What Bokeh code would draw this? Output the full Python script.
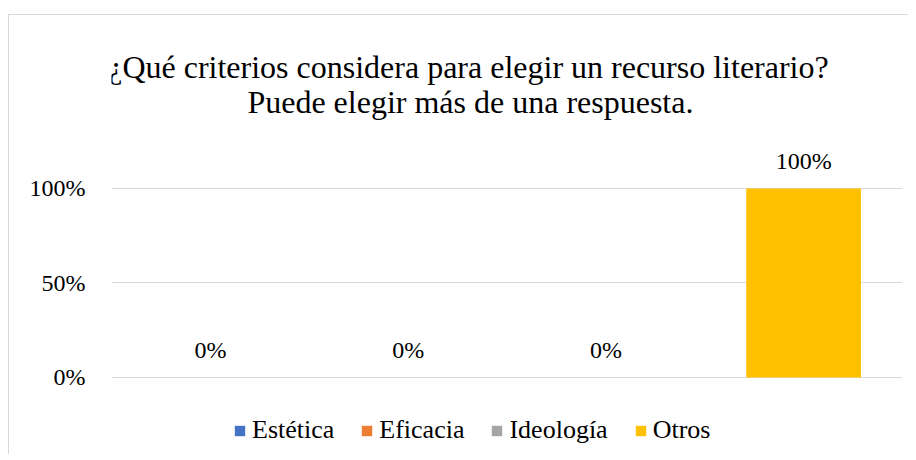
from bokeh.plotting import figure
from bokeh.models import (ColumnDataSource, Legend, LegendItem, Label, FixedTicker,
                          CustomJSTickFormatter, Range1d, FactorRange)
from bokeh.core.properties import value
from bokeh.embed import file_html
from bokeh.resources import INLINE

title_line1 = "¿Qué criterios considera para elegir un recurso literario?"
title_line2 = "Puede elegir más de una respuesta."
categories = ["Estética", "Eficacia", "Ideología", "Otros"]
values = [0, 0, 0, 100]
colors = ["#4472C4", "#ED7D31", "#A5A5A5", "#FFC000"]
y_ticks = [0, 50, 100]

FONT = "Liberation Serif"

src = ColumnDataSource(dict(
    cat=categories,
    val=values,
    color=colors,
    lab=[f"{v}%" for v in values],
))

p = figure(width=900, height=440, x_range=FactorRange(*categories), y_range=Range1d(-41.3, 191.5),
           output_backend="svg", toolbar_location=None,
           min_border_left=102, min_border_right=7, min_border_top=0, min_border_bottom=0)
p.styles = {"margin-left": "8px", "margin-top": "14px",
            "border-top": "1px solid #d9d9d9", "border-left": "1px solid #d9d9d9"}
p.outline_line_color = None

r = p.vbar(x="cat", top="val", width=0.58, fill_color="color", line_color=None, source=src)

p.text(x="cat", y="val", text="lab", source=src, text_align="center", text_baseline="bottom",
       y_offset=-14, text_font=value(FONT), text_font_size="24px", text_color="#000000")

p.xaxis.visible = False
p.xgrid.visible = False
p.yaxis.ticker = FixedTicker(ticks=y_ticks)
p.yaxis.formatter = CustomJSTickFormatter(code="return tick + '%';")
p.yaxis.axis_line_color = None
p.yaxis.major_tick_line_color = None
p.yaxis.minor_tick_line_color = None
p.yaxis.major_label_standoff = 20
p.yaxis.major_label_text_font = FONT
p.yaxis.major_label_text_font_size = "24px"
p.yaxis.major_label_text_color = "#000000"
p.ygrid.ticker = FixedTicker(ticks=y_ticks)
p.ygrid.grid_line_color = "#d9d9d9"
p.ygrid.grid_line_width = 1

# Two title lines, each centred on its own
for txt, tx, ty in [(title_line1, 1.805, 164.5), (title_line2, 1.815, 145.5)]:
    p.add_layout(Label(x=tx, y=ty, text=txt, text_align="center", text_baseline="alphabetic",
                       text_font=FONT, text_font_size="32px", text_color="#000000"))

items = [LegendItem(label=c, renderers=[r], index=i) for i, c in enumerate(categories)]
legend = Legend(items=items, orientation="horizontal", location=(122, 10),
                label_text_font=FONT, label_text_font_size="26px", label_text_color="#000000",
                glyph_width=13, glyph_height=13, label_standoff=6, spacing=26,
                border_line_color=None, background_fill_alpha=0, padding=0, margin=0)
p.add_layout(legend)

open("out.html", "w").write(file_html(p, INLINE))
